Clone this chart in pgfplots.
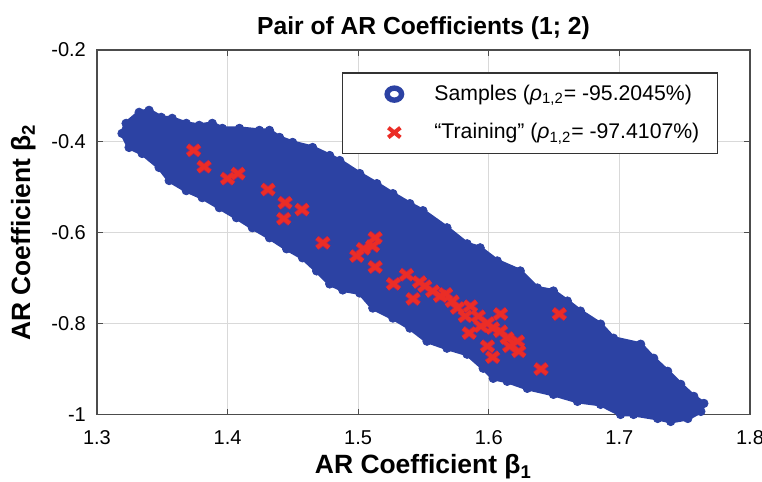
\documentclass[border=0pt]{standalone}
\usepackage{fontspec}
\setmainfont{Liberation Sans}
\usepackage{pgfplots}
\usepackage{pgfplotstable}
\pgfplotsset{compat=1.18}
\definecolor{sblue}{RGB}{44,66,163}
\definecolor{tred}{RGB}{235,45,38}
\definecolor{tedge}{RGB}{170,35,90}
\pgfplotsset{mylegimg/.style={legend image code/.code={\path[draw=none,fill=none] (0pt,0pt) -- (36pt,0pt); \draw[##1] plot coordinates {(19pt,0pt)};}}}
\pgfplotstableread{
x y
1.3192 -0.3828
1.3223 -0.3608
1.3323 -0.3366
1.3399 -0.3322
1.3492 -0.3476
1.3576 -0.3498
1.3684 -0.3608
1.3783 -0.3652
1.3883 -0.3608
1.3960 -0.3718
1.4091 -0.3718
1.4244 -0.3762
1.4321 -0.3762
1.4398 -0.3916
1.4498 -0.4026
1.4651 -0.4137
1.4782 -0.4313
1.4859 -0.4423
1.5012 -0.4709
1.5143 -0.4930
1.5266 -0.5150
1.5396 -0.5370
1.5496 -0.5524
1.5680 -0.5899
1.5834 -0.6251
1.5934 -0.6339
1.6065 -0.6626
1.6241 -0.6846
1.6372 -0.7220
1.6495 -0.7286
1.6602 -0.7507
1.6702 -0.7727
1.6856 -0.8013
1.6955 -0.8322
1.7163 -0.8454
1.7263 -0.8762
1.7370 -0.9048
1.7470 -0.9335
1.7570 -0.9599
1.7647 -0.9753
1.7624 -0.9930
1.7524 -1.0084
1.7393 -1.0150
1.7293 -1.0084
1.7109 -0.9996
1.7009 -0.9996
1.6856 -0.9775
1.6679 -0.9709
1.6495 -0.9555
1.6295 -0.9423
1.6141 -0.9269
1.6034 -0.9203
1.5957 -0.8982
1.5834 -0.8674
1.5680 -0.8542
1.5527 -0.8388
1.5396 -0.8101
1.5266 -0.7881
1.5112 -0.7661
1.5012 -0.7330
1.4882 -0.7264
1.4782 -0.7132
1.4682 -0.6846
1.4574 -0.6559
1.4452 -0.6361
1.4321 -0.6119
1.4190 -0.5899
1.4068 -0.5678
1.3937 -0.5458
1.3806 -0.5238
1.3684 -0.5084
1.3553 -0.4863
1.3476 -0.4577
1.3346 -0.4269
1.3246 -0.4137
}\cloud
\pgfplotstableread{
x y
1.374 -0.420
1.382 -0.456
1.400 -0.482
1.408 -0.471
1.431 -0.506
1.444 -0.535
1.457 -0.550
1.443 -0.570
1.473 -0.623
1.499 -0.652
1.504 -0.636
1.513 -0.612
1.511 -0.630
1.513 -0.676
1.527 -0.713
1.537 -0.693
1.542 -0.746
1.547 -0.709
1.551 -0.718
1.557 -0.729
1.563 -0.740
1.567 -0.735
1.572 -0.751
1.576 -0.766
1.582 -0.784
1.586 -0.762
1.585 -0.821
1.592 -0.784
1.594 -0.806
1.599 -0.799
1.609 -0.779
1.603 -0.810
1.609 -0.817
1.614 -0.832
1.599 -0.850
1.603 -0.874
1.616 -0.850
1.622 -0.839
1.623 -0.861
1.640 -0.900
1.654 -0.779
}\training
\begin{document}
\begin{tikzpicture}
\begin{axis}[
  name=ax,
  scale only axis, width=326pt, height=182pt,
  xmin=1.3, xmax=1.8, ymin=-1, ymax=-0.2,
  clip=false,
  xtick={1.3,1.4,1.5,1.6,1.7,1.8}, xticklabels={1.3,1.4,1.5,1.6,1.7,1.8},
  ytick={-1,-0.8,-0.6,-0.4,-0.2}, yticklabels={-1,-0.8,-0.6,-0.4,-0.2},
  tick align=inside, tick pos=both, major tick length=3pt,
  grid=major, major grid style={black!15, line width=0.5pt},
  axis line style={black!70, line width=0.6pt},
  tick style={black!70, line width=0.5pt},
  ticklabel style={font=\fontsize{10}{11}\selectfont},
  xticklabel style={inner xsep=0pt, yshift=-4.5pt},
  yticklabel style={xshift=-2pt},
  title={\textbf{Pair of AR Coefficients (1; 2)}},
  title style={font=\fontsize{12.3}{14}\selectfont, yshift=-4.5pt},
  xlabel={\textbf{AR Coefficient β\textsubscript{1}}},
  ylabel={\textbf{AR Coefficient β\textsubscript{2}}},
  label style={font=\fontsize{13.2}{15}\selectfont},
  xlabel style={yshift=2pt},
  ylabel style={yshift=1pt},
  legend style={at={(0.951,0.939)}, anchor=north east,
    font=\fontsize{10.6}{12}\selectfont, draw=black!80, line width=0.6pt,
    row sep=6pt, inner xsep=7pt, inner ysep=4pt,
    /tikz/every odd column/.append style={column sep=1pt}},
  legend cell align=left,
]
% sample cloud outline
\addplot[fill=sblue, draw=sblue, line width=2pt, line join=round, forget plot]
  table[x=x, y=y] {\cloud} -- cycle;
\addplot[only marks, mark=*, mark size=2.1pt, color=sblue, forget plot]
  table[x=x, y=y] {\cloud};
\addlegendimage{only marks, mark=o, mark size=3pt, line width=2.7pt, color=sblue,
  mark options={xscale=1.2}, mylegimg}
\addlegendentry{Samples (\textit{ρ}\textsubscript{1,2}= -95.2045\%)}
% training points (edge layer)
\addplot[only marks, mark=x, mark size=3.4pt, line width=2.8pt, color=tedge,
  mark options={xscale=1.25}, forget plot] table[x=x, y=y] {\training};
\addplot[only marks, mark=x, mark size=3.4pt, line width=2pt, color=tred,
  mark options={xscale=1.25}, mylegimg]
  table[x=x, y=y] {\training};
\addlegendentry{“Training” (\textit{ρ}\textsubscript{1,2}= -97.4107\%)\rule[-8pt]{0pt}{1pt}}
\end{axis}
\pgfresetboundingbox
\path[use as bounding box] ([xshift=-48.4pt,yshift=-33.5pt]ax.south west) rectangle ([xshift=6pt,yshift=25pt]ax.north east);
\end{tikzpicture}
\end{document}
